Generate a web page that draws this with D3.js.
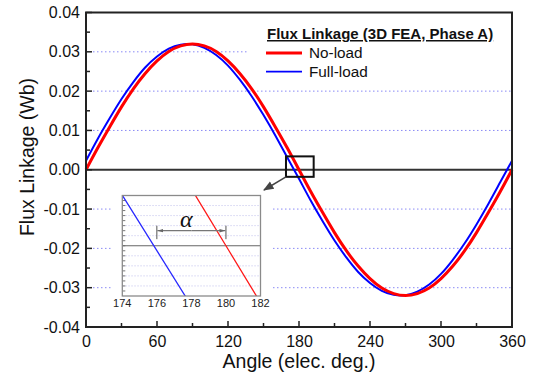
<!DOCTYPE html>
<html lang="en">
<head>
<meta charset="utf-8">
<title>Flux Linkage</title>
<script src="https://d3js.org/d3.v7.min.js"></script>
<style>
  body { margin: 0; background: #fff; }
  text { font-family: "Liberation Sans", Arial, sans-serif; }
</style>
</head>
<body>
<script>
// data
var angles = [0, 10, 20, 30, 40, 50, 60, 70, 80, 90, 100, 110, 120, 130, 140, 150, 160, 170, 180,
              190, 200, 210, 220, 230, 240, 250, 260, 270, 280, 290, 300, 310, 320, 330, 340, 350, 360];
var noLoad = [0, 0.0056, 0.0109, 0.0160, 0.0206, 0.0245, 0.0277, 0.0301, 0.0315, 0.0320, 0.0315, 0.0301,
              0.0277, 0.0245, 0.0206, 0.0160, 0.0109, 0.0056, 0.0000, -0.0056, -0.0109, -0.0160, -0.0206,
              -0.0245, -0.0277, -0.0301, -0.0315, -0.0320, -0.0315, -0.0301, -0.0277, -0.0245, -0.0206,
              -0.0160, -0.0109, -0.0056, 0.0000];
var fullLoad = [0.0023, 0.0079, 0.0131, 0.0180, 0.0223, 0.0260, 0.0288, 0.0308, 0.0318, 0.0319, 0.0310,
                0.0292, 0.0265, 0.0229, 0.0187, 0.0139, 0.0087, 0.0032, -0.0023, -0.0079, -0.0131, -0.0180,
                -0.0223, -0.0260, -0.0288, -0.0308, -0.0318, -0.0319, -0.0310, -0.0292, -0.0265, -0.0229,
                -0.0187, -0.0139, -0.0087, -0.0032, 0.0023];
var xTicks = [0, 60, 120, 180, 240, 300, 360];
var yTicks = [-0.04, -0.03, -0.02, -0.01, 0.00, 0.01, 0.02, 0.03, 0.04];
var insetTicks = [174, 176, 178, 180, 182];
var seriesNames = ["No-load", "Full-load"];
var legendTitle = "Flux Linkage (3D FEA, Phase A)";

var w = 537, h = 379;
var svg = d3.select("body").append("svg").attr("width", w).attr("height", h);

var x = d3.scaleLinear().domain([0, 360]).range([86, 512]);
var y = d3.scaleLinear().domain([-0.04, 0.04]).range([327, 12.5]);

//gridlines
svg.append("g").selectAll("line")
   .data(yTicks.filter(function(d) { return d != 0 && Math.abs(d) < 0.04; }))
   .enter().append("line")
   .attr("x1", x(0) + 7).attr("x2", x(360))
   .attr("y1", function(d) { return y(d); }).attr("y2", function(d) { return y(d); })
   .attr("stroke", "#8a8af5").attr("stroke-width", 1).attr("stroke-dasharray", "1.5,2.5");

//white boxes behind legend and inset
svg.append("rect").attr("x", 248).attr("y", 14).attr("width", 263).attr("height", 68).attr("fill", "#fff");
svg.append("rect").attr("x", 113).attr("y", 188).attr("width", 160).attr("height", 124).attr("fill", "#fff");

//zero line
svg.append("line").attr("x1", x(0)).attr("x2", x(360)).attr("y1", y(0)).attr("y2", y(0))
   .attr("stroke", "#333").attr("stroke-width", 2);

var rows = angles.map(function(a, i) { return { a: a, n: noLoad[i], f: fullLoad[i] }; });

function lineFor(key, xs, ys) {
  return d3.line()
    .x(function(d) { return xs(d.a); })
    .y(function(d) { return ys(d[key]); })
    .curve(d3.curveNatural);
}

svg.append("path").datum(rows).attr("d", lineFor("f", x, y))
   .attr("fill", "none").attr("stroke", "#0000ff").attr("stroke-width", 2);
svg.append("path").datum(rows).attr("d", lineFor("n", x, y))
   .attr("fill", "none").attr("stroke", "#ff0000").attr("stroke-width", 3);

//axes
var yAxis = d3.axisLeft(y).tickValues(yTicks).tickSize(0).tickPadding(6).tickFormat(d3.format(".2f"));
var gy = svg.append("g").attr("transform", "translate(" + x(0) + ",0)").call(yAxis);
var xAxis = d3.axisBottom(x).tickValues(xTicks).tickSize(0).tickPadding(9);
var gx = svg.append("g").attr("transform", "translate(0," + y(-0.04) + ")").call(xAxis);
[gx, gy].forEach(function(g) {
  g.select(".domain").remove();
  g.selectAll("text").attr("font-size", "16px").attr("fill", "#111")
   .text(function(d) { return d3.select(this).text().replace("\u2212", "-"); });
});

//inward ticks
var yMinor = d3.range(-0.04, 0.0401, 0.005);
svg.append("g").selectAll("line").data(yMinor).enter().append("line")
   .attr("x1", x(0)).attr("x2", function(d, i) { return x(0) + (i % 2 == 0 ? 6 : 4); })
   .attr("y1", function(d) { return y(d); }).attr("y2", function(d) { return y(d); })
   .attr("stroke", "#222").attr("stroke-width", 1.5);
var xMinor = d3.range(0, 361, 30);
svg.append("g").selectAll("line").data(xMinor).enter().append("line")
   .attr("x1", function(d) { return x(d); }).attr("x2", function(d) { return x(d); })
   .attr("y1", y(-0.04)).attr("y2", function(d, i) { return y(-0.04) - (i % 2 == 0 ? 6 : 4); })
   .attr("stroke", "#222").attr("stroke-width", 1.5);

//frame
svg.append("rect").attr("x", x(0)).attr("y", y(0.04))
   .attr("width", x(360) - x(0)).attr("height", y(-0.04) - y(0.04))
   .attr("fill", "none").attr("stroke", "#222").attr("stroke-width", 2);

//axis titles
svg.append("text").attr("x", (x(0) + x(360)) / 2).attr("y", 368)
   .attr("text-anchor", "middle").attr("font-size", "19.5px").attr("fill", "#111")
   .text("Angle (elec. deg.)");
svg.append("text").attr("transform", "translate(34,157) rotate(-90)")
   .attr("text-anchor", "middle").attr("font-size", "19.5px").attr("fill", "#111")
   .text("Flux Linkage (Wb)");

//legend
svg.append("text").attr("x", 267).attr("y", 39).attr("font-size", "15px").attr("font-weight", "bold")
   .attr("fill", "#111").attr("text-decoration", "underline").text(legendTitle);
var legColors = ["#ff0000", "#0000ff"], legWidths = [3, 1.8];
seriesNames.forEach(function(name, i) {
  var ly = 53 + i * 18.7;
  svg.append("line").attr("x1", 266).attr("x2", 302).attr("y1", ly).attr("y2", ly)
     .attr("stroke", legColors[i]).attr("stroke-width", legWidths[i]);
  svg.append("text").attr("x", 309).attr("y", ly + 5).attr("font-size", "15.3px").attr("fill", "#111").text(name);
});

//magnifier box and arrow
var defs = svg.append("defs");
defs.append("marker").attr("id", "arr").attr("viewBox", "0 0 10 10").attr("refX", 9).attr("refY", 5)
    .attr("markerWidth", 7).attr("markerHeight", 7).attr("orient", "auto")
    .append("path").attr("d", "M0,1 L10,5 L0,9 z").attr("fill", "#444");
defs.append("marker").attr("id", "arrs").attr("viewBox", "0 0 10 10").attr("refX", 10).attr("refY", 5)
    .attr("markerWidth", 5).attr("markerHeight", 5).attr("orient", "auto")
    .append("path").attr("d", "M0,2 L10,5 L0,8 z").attr("fill", "#666");

svg.append("rect").attr("x", x(169)).attr("y", y(0.0034))
   .attr("width", x(192.4) - x(169)).attr("height", y(-0.0018) - y(0.0034))
   .attr("fill", "none").attr("stroke", "#111").attr("stroke-width", 2);
svg.append("line").attr("x1", x(169)).attr("y1", y(-0.0018)).attr("x2", 264).attr("y2", 190)
   .attr("stroke", "#444").attr("stroke-width", 1.5).attr("marker-end", "url(#arr)");

//inset
var ix = d3.scaleLinear().domain([174, 182]).range([122.3, 260.5]);
var iy = d3.scaleLinear().domain([-0.001, 0.001]).range([296, 195.5]);
var inset = svg.append("g");
defs.append("clipPath").attr("id", "iclip").append("rect")
    .attr("x", ix(174)).attr("y", iy(0.001)).attr("width", ix(182) - ix(174)).attr("height", iy(-0.001) - iy(0.001));

inset.append("g").selectAll("line").data(d3.range(-4, 5).filter(function(k) { return k != 0; }))
   .enter().append("line")
   .attr("x1", ix(174)).attr("x2", ix(182))
   .attr("y1", function(k) { return iy(k * 0.0002); }).attr("y2", function(k) { return iy(k * 0.0002); })
   .attr("stroke", "#d4d4f2").attr("stroke-width", 1).attr("stroke-dasharray", "1.5,1.5");
inset.append("g").selectAll("line").data(d3.range(-9, 10)).enter().append("line")
   .attr("x1", ix(174)).attr("x2", ix(174) + 3)
   .attr("y1", function(k) { return iy(k * 0.0001); }).attr("y2", function(k) { return iy(k * 0.0001); })
   .attr("stroke", "#777").attr("stroke-width", 1);
inset.append("line").attr("x1", ix(174)).attr("x2", ix(182)).attr("y1", iy(0)).attr("y2", iy(0))
   .attr("stroke", "#666").attr("stroke-width", 1.2);

var clipped = inset.append("g").attr("clip-path", "url(#iclip)");
clipped.append("path").datum(rows).attr("d", lineFor("f", ix, iy))
   .attr("fill", "none").attr("stroke", "#2a2aff").attr("stroke-width", 1.3);
clipped.append("path").datum(rows).attr("d", lineFor("n", ix, iy))
   .attr("fill", "none").attr("stroke", "#ff1a1a").attr("stroke-width", 1.3);

inset.append("rect").attr("x", ix(174)).attr("y", iy(0.001))
   .attr("width", ix(182) - ix(174)).attr("height", iy(-0.001) - iy(0.001))
   .attr("fill", "none").attr("stroke", "#8a8a8a").attr("stroke-width", 1.3);

inset.append("g").selectAll("text").data(insetTicks).enter().append("text")
   .attr("x", function(d) { return ix(d); }).attr("y", 307)
   .attr("text-anchor", "middle").attr("font-size", "11px").attr("fill", "#222")
   .text(function(d) { return d; });

//alpha dimension
var ay = iy(0.0003);
[176, 180].forEach(function(d) {
  inset.append("line").attr("x1", ix(d)).attr("x2", ix(d)).attr("y1", ay - 5).attr("y2", ay + 8.5)
     .attr("stroke", "#555").attr("stroke-width", 1);
});
inset.append("line").attr("x1", ix(178)).attr("x2", ix(176) + 0.5).attr("y1", ay).attr("y2", ay)
   .attr("stroke", "#777").attr("stroke-width", 1.2).attr("marker-end", "url(#arrs)");
inset.append("line").attr("x1", ix(178)).attr("x2", ix(180) - 0.5).attr("y1", ay).attr("y2", ay)
   .attr("stroke", "#777").attr("stroke-width", 1.2).attr("marker-end", "url(#arrs)");
inset.append("text").attr("x", ix(177.7)).attr("y", 227)
   .attr("text-anchor", "middle").attr("font-size", "24px").attr("fill", "#111")
   .style("font-style", "italic")
   .style("font-family", "'Liberation Serif', 'Times New Roman', serif")
   .text("\u03b1");
</script>
</body>
</html>
